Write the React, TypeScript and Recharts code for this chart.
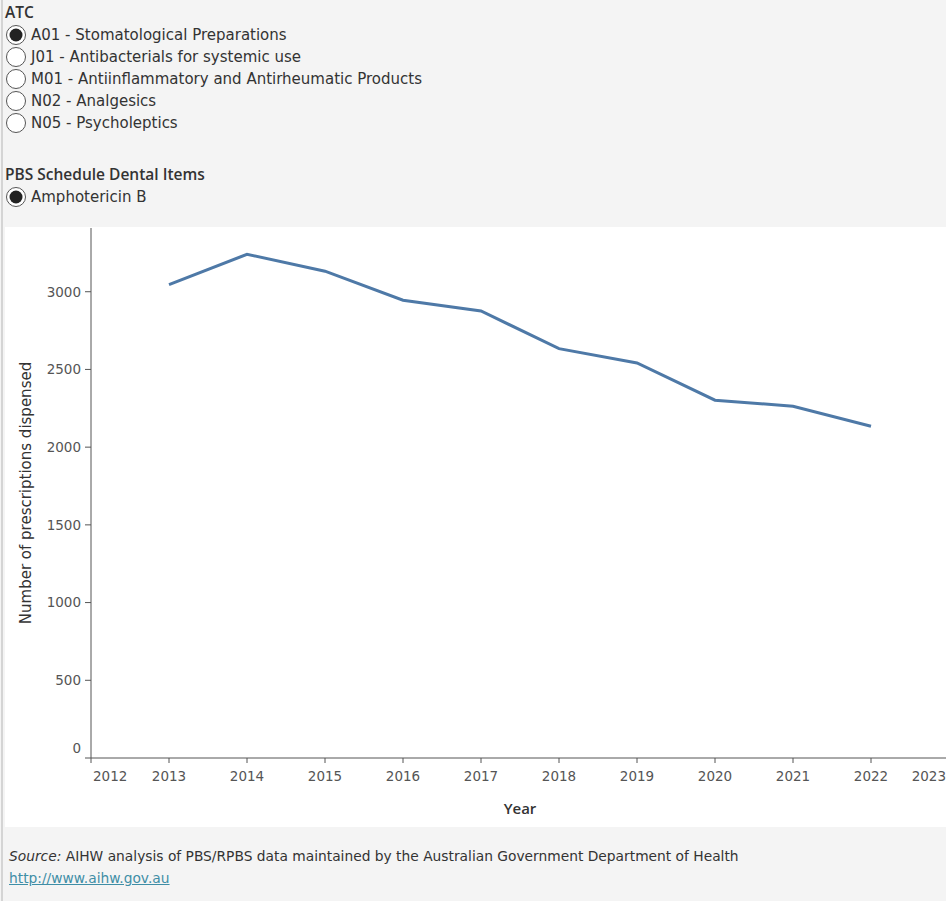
import React from 'react';
import { LineChart, Line, XAxis, YAxis } from 'recharts';

// values
const years = [2013, 2014, 2015, 2016, 2017, 2018, 2019, 2020, 2021, 2022];
const prescriptions = [3046, 3241, 3132, 2945, 2876, 2634, 2542, 2302, 2263, 2134];
const yearTicks = [2012, 2013, 2014, 2015, 2016, 2017, 2018, 2019, 2020, 2021, 2022, 2023];
const countTicks = [0, 500, 1000, 1500, 2000, 2500, 3000];

const atcOptions = [
  'A01 - Stomatological Preparations',
  'J01 - Antibacterials for systemic use',
  'M01 - Antiinflammatory and Antirheumatic Products',
  'N02 - Analgesics',
  'N05 - Psycholeptics',
];
const dentalItems = ['Amphotericin B'];

const chartData = years.map((year, i) => ({ year, count: prescriptions[i] }));

const TEXT_FONT = '"DejaVu Sans", sans-serif';
const TICK_FONT = '"DejaVu Sans", sans-serif';
const HEAD_FONT = '"Open Sans", sans-serif';

function Radio({ label, checked }: { label: string; checked: boolean }) {
  return (
    <div style={{ display: 'flex', alignItems: 'center', height: 22 }}>
      <svg width={22} height={22} style={{ marginLeft: 5, flexShrink: 0 }}>
        <circle cx={11} cy={11} r={9.5} fill="#fff" stroke="#555" strokeWidth={1} />
        {checked && <circle cx={11} cy={11} r={6.5} fill="#222" />}
      </svg>
      <span style={{ fontSize: 15, color: '#333', marginLeft: 4 }}>{label}</span>
    </div>
  );
}

function YearTick(props: any) {
  const { x, y, payload, index } = props;
  const last = index === yearTicks.length - 1;
  const first = index === 0;
  const anchor = first ? 'start' : last ? 'end' : 'middle';
  const dx = first ? 2 : last ? -3 : 0;
  return (
    <text x={x + dx} y={y} dy="0.71em" textAnchor={anchor} fill="#555" fontSize={13.5} fontFamily={TICK_FONT}>
      {payload.value}
    </text>
  );
}

function CountTick(props: any) {
  const { x, y, payload } = props;
  const dy = payload.value === 0 ? -10 : 0;
  return (
    <text x={x} y={y + dy} dy="0.36em" textAnchor="end" fill="#555" fontSize={13.5} fontFamily={TICK_FONT}>
      {payload.value}
    </text>
  );
}

function YTitle(props: any) {
  const { viewBox } = props;
  const cx = viewBox.x + 26;
  const cy = viewBox.y + viewBox.height / 2;
  return (
    <text x={cx} y={cy} transform={`rotate(-90, ${cx}, ${cy})`} textAnchor="middle" dominantBaseline="central"
      fill="#333" fontSize={15} fontFamily={TEXT_FONT}>
      Number of prescriptions dispensed
    </text>
  );
}

export default function App() {
  return (
    <div style={{ position: 'absolute', left: 0, top: 0, width: 946, height: 901, background: '#f4f4f4', overflow: 'hidden', fontFamily: TEXT_FONT }}>
      <div style={{ position: 'absolute', left: 1, top: 0, width: 2, height: 901, background: '#d4d4d4' }} />

      <div style={{ position: 'absolute', left: 5, top: 1, fontSize: 15.5, fontWeight: 600, color: '#333', fontFamily: HEAD_FONT }}>ATC</div>
      <div style={{ position: 'absolute', left: 0, top: 24 }}>
        {atcOptions.map((opt, i) => (
          <Radio key={opt} label={opt} checked={i === 0} />
        ))}
      </div>

      <div style={{ position: 'absolute', left: 5, top: 163, fontSize: 15.5, fontWeight: 600, color: '#333', fontFamily: HEAD_FONT }}>PBS Schedule Dental Items</div>
      <div style={{ position: 'absolute', left: 0, top: 186 }}>
        {dentalItems.map((item) => (
          <Radio key={item} label={item} checked />
        ))}
      </div>

      <div style={{ position: 'absolute', left: 5, top: 227, width: 941, height: 600, background: '#fff' }} />
      <div style={{ position: 'absolute', left: 0, top: 227 }}>
        <LineChart width={980} height={600} data={chartData} margin={{ top: 1, right: 31, bottom: 0, left: 0 }}>
          <XAxis
            dataKey="year"
            type="number"
            domain={[2012, 2023]}
            ticks={yearTicks}
            interval={0}
            height={69}
            tickSize={5}
            tickMargin={8}
            stroke="#555"
            tick={<YearTick />}
            label={{ value: 'Year', position: 'insideBottom', offset: 13, fill: '#333', fontSize: 15, fontWeight: 600, fontFamily: HEAD_FONT }}
          />
          <YAxis
            type="number"
            domain={[0, 3410]}
            ticks={countTicks}
            interval={0}
            width={91}
            tickSize={6}
            tickMargin={4}
            stroke="#555"
            tick={<CountTick />}
            label={<YTitle />}
          />
          <Line type="linear" dataKey="count" stroke="#4e79a7" strokeWidth={3} dot={false} isAnimationActive={false} />
        </LineChart>
      </div>

      <div style={{ position: 'absolute', left: 9, top: 848, fontSize: 13.8, color: '#333' }}>
        <i>Source:</i> AIHW analysis of PBS/RPBS data maintained by the Australian Government Department of Health
      </div>
      <div style={{ position: 'absolute', left: 9, top: 870, fontSize: 13.8, color: '#3f8ea6', textDecoration: 'underline' }}>
        http://www.aihw.gov.au
      </div>
    </div>
  );
}
